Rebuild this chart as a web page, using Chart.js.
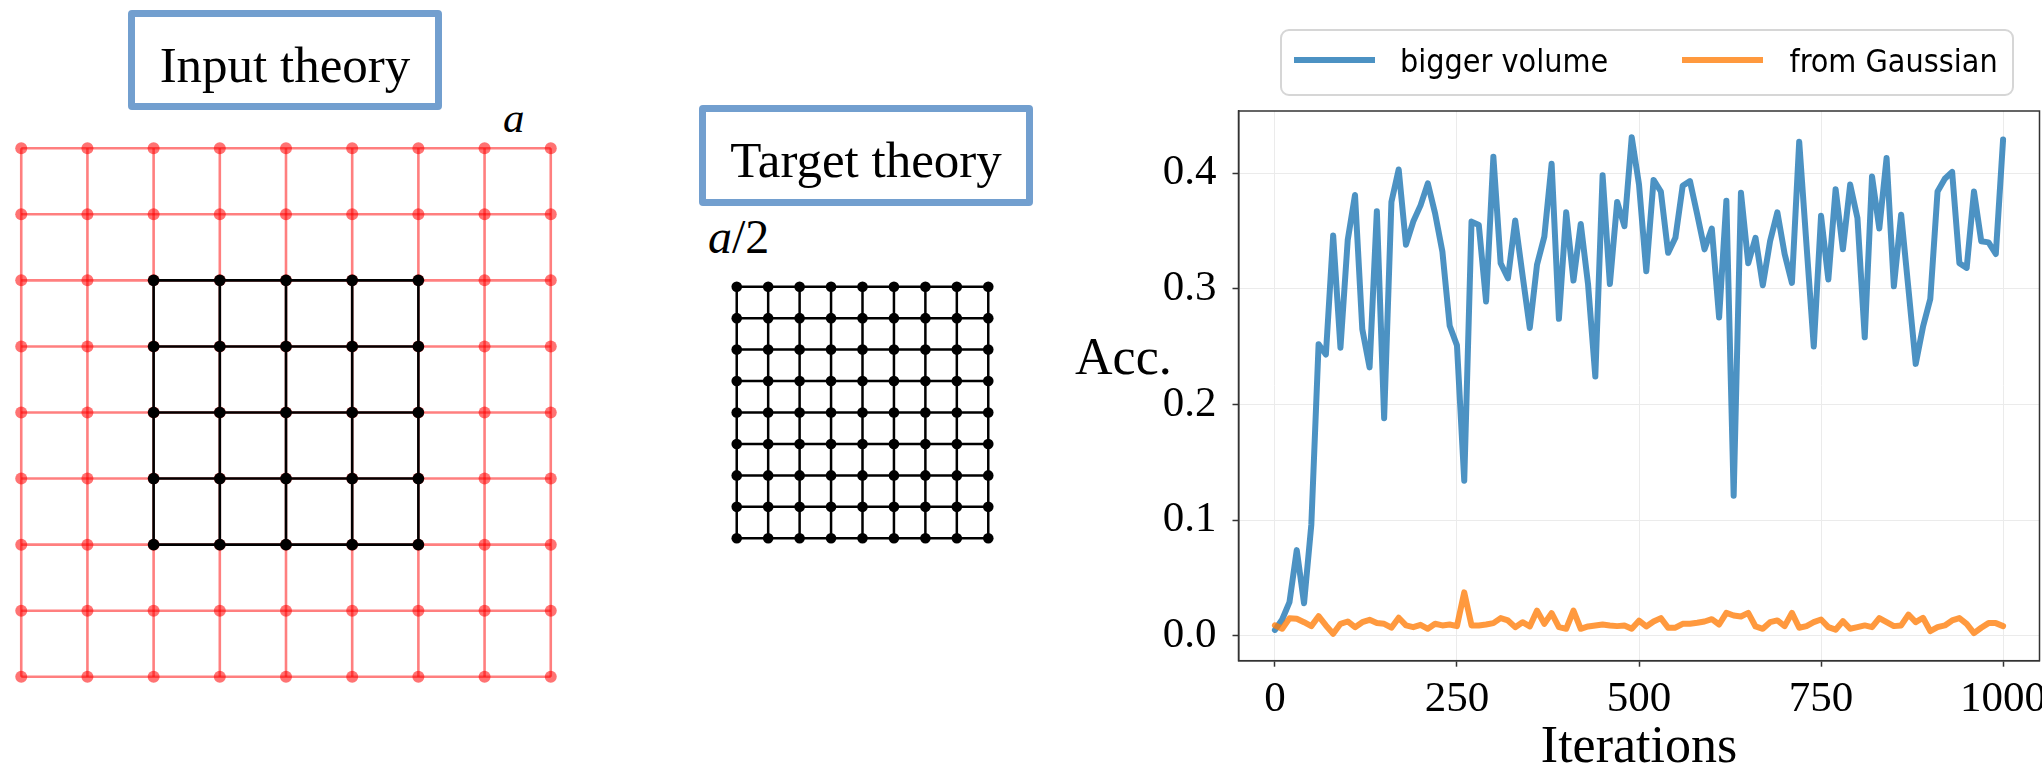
<!DOCTYPE html>
<html><head><meta charset="utf-8">
<script src="https://cdn.jsdelivr.net/npm/chart.js@4.4.1/dist/chart.umd.min.js"></script>
<style>
html,body{margin:0;padding:0;background:#fff;}
#root{position:relative;width:2042px;height:768px;overflow:hidden;background:#fff;}
canvas{position:absolute;}
.tbox{position:absolute;box-sizing:border-box;border:7px solid #729fcf;border-radius:4px;font-family:"Liberation Serif",serif;font-size:51px;line-height:51px;color:#000;display:flex;align-items:center;justify-content:center;}
.lbl{position:absolute;font-family:"Liberation Serif",serif;color:#000;white-space:nowrap;}
#legend{position:absolute;left:1280px;top:29px;width:734px;height:67px;box-sizing:border-box;border:2px solid #d6d6d6;border-radius:9px;}
.legline{position:absolute;height:6px;}
.legtxt{position:absolute;font-family:"DejaVu Sans",sans-serif;font-stretch:condensed;font-size:32px;line-height:32px;color:#000;white-space:nowrap;}
</style>
</head><body>
<div id="root">
  <div class="tbox" style="left:128px;top:10px;width:314px;height:100px;padding-top:10px;">Input theory</div>
  <div class="tbox" style="left:699px;top:105px;width:334px;height:101px;padding-top:9px;">Target theory</div>
  <div class="lbl" style="left:503px;top:96px;font-size:43px;line-height:43px;"><i>a</i></div>
  <div class="lbl" style="left:708px;top:213px;font-size:48px;line-height:48px;"><i>a</i>/2</div>
  <div class="lbl" style="left:1075px;top:331px;font-size:52px;line-height:52px;">Acc.</div>
  <canvas id="inLat" width="568" height="567" style="left:2px;top:129px;"></canvas>
  <canvas id="tgLat" width="281" height="281" style="left:722px;top:272px;"></canvas>
  <canvas id="acc" width="982" height="768" style="left:1060px;top:0px;"></canvas>
  <div id="legend"></div>
</div>
<script>
// ---------- lattice data ----------
const inputSites = [0,1,2,3,4,5,6,7,8];
const inputInnerSites = [2,3,4,5,6];
const targetSites = [0,1,2,3,4,5,6,7,8];

// ---------- accuracy data ----------
const iterations = [0,10,20,30,40,50,60,70,80,90,100,110,120,130,140,150,160,170,180,190,200,210,220,230,240,250,260,270,280,290,300,310,320,330,340,350,360,370,380,390,400,410,420,430,440,450,460,470,480,490,500,510,520,530,540,550,560,570,580,590,600,610,620,630,640,650,660,670,680,690,700,710,720,730,740,750,760,770,780,790,800,810,820,830,840,850,860,870,880,890,900,910,920,930,940,950,960,970,980,990,1000];
const biggerVolume = [0.005,0.014,0.029,0.074,0.028,0.096,0.252,0.243,0.346,0.249,0.342,0.381,0.265,0.232,0.367,0.188,0.375,0.403,0.338,0.358,0.372,0.391,0.365,0.332,0.268,0.251,0.134,0.358,0.355,0.289,0.414,0.322,0.309,0.359,0.312,0.266,0.321,0.345,0.408,0.274,0.366,0.307,0.356,0.304,0.224,0.398,0.304,0.375,0.354,0.431,0.390,0.315,0.394,0.384,0.331,0.344,0.389,0.393,0.364,0.334,0.352,0.275,0.376,0.121,0.383,0.322,0.344,0.303,0.341,0.366,0.330,0.305,0.427,0.338,0.250,0.363,0.308,0.386,0.334,0.390,0.361,0.258,0.397,0.352,0.413,0.302,0.364,0.300,0.235,0.267,0.291,0.384,0.395,0.401,0.322,0.318,0.384,0.341,0.340,0.330,0.429];
const fromGaussian = [0.009,0.006,0.015,0.0146,0.0117,0.0083,0.0169,0.0089,0.0017,0.0103,0.0123,0.0074,0.0117,0.0137,0.0109,0.0103,0.0069,0.0155,0.0089,0.0074,0.0094,0.006,0.0103,0.0089,0.0097,0.0083,0.0375,0.0089,0.0089,0.0097,0.0109,0.0152,0.0132,0.0074,0.0117,0.008,0.0217,0.0103,0.0195,0.0074,0.006,0.0217,0.006,0.008,0.0089,0.0097,0.0089,0.0083,0.0089,0.006,0.013,0.008,0.0123,0.0152,0.0069,0.0069,0.0103,0.0103,0.0112,0.0123,0.0143,0.0097,0.0197,0.0175,0.0166,0.0197,0.008,0.006,0.0117,0.0132,0.0083,0.0197,0.0069,0.0083,0.0117,0.014,0.0074,0.0052,0.0126,0.006,0.0074,0.0089,0.0074,0.0152,0.0117,0.0083,0.0089,0.0183,0.0117,0.0155,0.004,0.0074,0.0089,0.0132,0.0152,0.0103,0.0023,0.0069,0.0109,0.0109,0.0083];
const seriesNames = ['bigger volume','from Gaussian'];
const xTicks = [0,250,500,750,1000];
const yTicks = [0.0,0.1,0.2,0.3,0.4];

const blueC = 'rgba(31,119,180,0.8)';
const orangeC = 'rgba(255,127,14,0.8)';

// ---------- lattice helper ----------
function latticeSets(cols, rows, lineColor, pointColor, lw, pr, order){
  const sets = [];
  rows.forEach(r => sets.push({data: cols.map(c => ({x:c, y:r})), showLine:true, borderColor:lineColor, borderWidth:lw,
     pointRadius:pr, pointBackgroundColor:pointColor, pointBorderWidth:0, pointHoverRadius:pr, order:order}));
  cols.forEach(c => sets.push({data: rows.map(r => ({x:c, y:r})), showLine:true, borderColor:lineColor, borderWidth:lw,
     pointRadius:0, pointHoverRadius:0, order:order}));
  return sets;
}
function latticeOptions(min, max){
  return {responsive:false, animation:false, events:[], layout:{padding:0},
    plugins:{legend:{display:false}, tooltip:{enabled:false}},
    scales:{x:{type:'linear', min:min, max:max, display:false},
            y:{type:'linear', min:min, max:max, display:false, reverse:true}}};
}
new Chart(document.getElementById('inLat'), {type:'scatter',
  data:{datasets:[
    ...latticeSets(inputInnerSites, inputInnerSites, '#000', '#000', 2.6, 5.8, 1),
    ...latticeSets(inputSites, inputSites, 'rgba(255,0,0,0.5)', 'rgba(255,0,0,0.55)', 2.6, 6, 2)
  ].map(d => Object.assign(d, {clip:false}))},
  options: latticeOptions(-0.2, 8.2)});
new Chart(document.getElementById('tgLat'), {type:'scatter',
  data:{datasets: latticeSets(targetSites, targetSites, '#000', '#000', 2.5, 5.3, 1).map(d => Object.assign(d, {clip:false}))},
  options: latticeOptions(-0.3, 8.3)});

// ---------- accuracy chart ----------
const frame = {id:'frame', afterDraw(c){const {ctx, chartArea:a} = c; ctx.save(); ctx.strokeStyle='#333'; ctx.lineWidth=1.5;
  ctx.strokeRect(a.left, a.top, a.right-a.left, a.bottom-a.top); ctx.restore();}};
const tickFont = {family:'"Liberation Serif", serif', size:43};
const accChart = new Chart(document.getElementById('acc'), {
  type:'line',
  data:{datasets:[
    {label:seriesNames[0], data: iterations.map((x,i)=>({x:x, y:biggerVolume[i]})), borderColor:blueC, borderWidth:6,
     pointRadius:0, borderJoinStyle:'round', borderCapStyle:'round', tension:0, order:2},
    {label:seriesNames[1], data: iterations.map((x,i)=>({x:x, y:fromGaussian[i]})), borderColor:orangeC, borderWidth:6,
     pointRadius:0, borderJoinStyle:'round', borderCapStyle:'round', tension:0, order:1}
  ]},
  options:{responsive:false, animation:false, events:[],
    layout:{padding:{top:111, right:2.5, left:0, bottom:0}},
    plugins:{legend:{display:false}, tooltip:{enabled:false}},
    scales:{
      x:{type:'linear', min:-50, max:1050,
         afterBuildTicks: s => { s.ticks = xTicks.map(v => ({value:v})); },
         afterFit: s => { s.height = 107.3; s.paddingLeft = 0; s.paddingRight = 0; },
         ticks:{font:tickFont, color:'#000', padding:7, maxRotation:0, autoSkip:false, callback: v => String(v)},
         grid:{color:'#ebebeb', lineWidth:1, tickLength:6, tickColor:'#333', tickWidth:1.5},
         border:{display:true, color:'#333', width:1.5},
         title:{display:true, text:'Iterations', color:'#000', font:{family:'"Liberation Serif", serif', size:52, lineHeight:0.75}, padding:0}},
      y:{type:'linear', min:-0.0216, max:0.4536,
         afterBuildTicks: s => { s.ticks = yTicks.map(v => ({value:v})); },
         afterFit: s => { s.width = 178.5; s.paddingTop = 0; s.paddingBottom = 0; },
         ticks:{font:tickFont, color:'#000', padding:16, autoSkip:false, callback: v => Number(v).toFixed(1)},
         grid:{color:'#ebebeb', lineWidth:1, tickLength:6, tickColor:'#333', tickWidth:1.5},
         border:{display:true, color:'#333', width:1.5}}
    }},
  plugins:[frame]
});

// ---------- HTML legend built from the chart's datasets ----------
const legend = document.getElementById('legend');
const legPos = [{line:1291.7, text:1400}, {line:1680, text:1789.5}];
accChart.data.datasets.forEach((ds, i) => {
  const ln = document.createElement('div'); ln.className = 'legline';
  ln.style.left = (legPos[i].line - 1280) + 'px'; ln.style.top = (60 - 29 - 3 - 2) + 'px';
  ln.style.width = '81px'; ln.style.background = ds.borderColor; legend.appendChild(ln);
  const tx = document.createElement('div'); tx.className = 'legtxt'; tx.textContent = ds.label;
  tx.style.left = (legPos[i].text - 1280 - 2) + 'px'; tx.style.top = (45 - 29 - 2) + 'px'; legend.appendChild(tx);
});
</script>
</body></html>
